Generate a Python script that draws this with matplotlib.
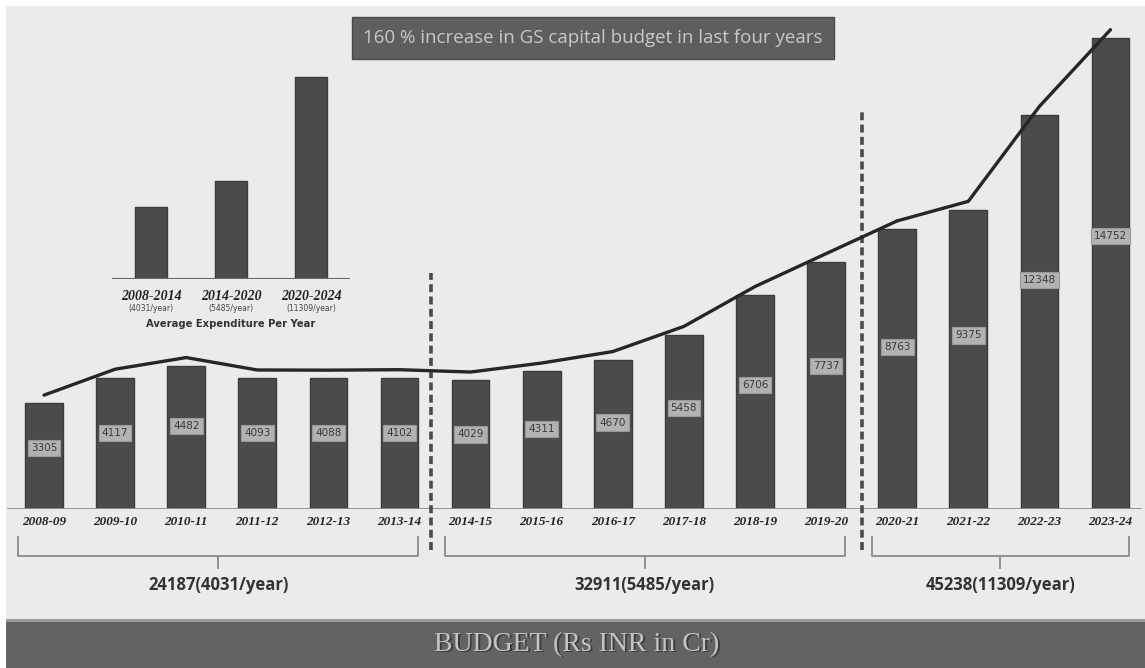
import matplotlib.pyplot as plt
import matplotlib.patches as mpatches
from matplotlib.transforms import offset_copy, blended_transform_factory

years = ["2008-09", "2009-10", "2010-11", "2011-12", "2012-13", "2013-14",
         "2014-15", "2015-16", "2016-17", "2017-18", "2018-19", "2019-20",
         "2020-21", "2021-22", "2022-23", "2023-24"]
budget = [3305, 4117, 4482, 4093, 4088, 4102,
          4029, 4311, 4670, 5458, 6706, 7737,
          8763, 9375, 12348, 14752]

periods = ["2008-2014", "2014-2020", "2020-2024"]
period_avg = [4031, 5485, 11309]
period_total = [24187, 32911, 45238]
period_idx = [(0, 5), (6, 11), (12, 15)]

BG = "#ebebeb"
BAR = "#4b4b4b"

fig = plt.figure(figsize=(11.45, 6.68), dpi=100, facecolor="white")
W, H = 1145, 668

def fx(px):
    return px / W

def fy(py):
    return 1 - py / H

# light panel + bottom banner
fig.patches.append(mpatches.Rectangle((fx(6), fy(620)), 1, fy(6) - fy(620),
                                      transform=fig.transFigure, fc=BG, ec="none", zorder=-10))
fig.patches.append(mpatches.Rectangle((fx(6), 0), 1, fy(620),
                                      transform=fig.transFigure, fc="#636363", ec="none", zorder=-9))
fig.patches.append(mpatches.Rectangle((fx(6), fy(622)), 1, fy(619) - fy(622),
                                      transform=fig.transFigure, fc="#9a9a9a", ec="none", zorder=-8))
fig.text(0.505, fy(646), "BUDGET (Rs INR in Cr)", ha="center", va="center",
         fontsize=20, family="Liberation Serif", color="#3c3c3c")
fig.text(0.504, fy(645), "BUDGET (Rs INR in Cr)", ha="center", va="center",
         fontsize=20, family="Liberation Serif", color="#c4c4c4")

# main axes
scale = 471 / 14752          # px per unit
base_px = 509
ax = fig.add_axes([0, fy(base_px), 1, base_px / H])
ax.set_facecolor("none")
x = list(range(len(years)))
ax.set_xlim(-44 / 71.1, (W - 44) / 71.1)
ax.set_ylim(0, base_px / scale)
for s in ax.spines.values():
    s.set_visible(False)
ax.set_yticks([])

ax.bar(x, budget, width=0.53, color=BAR, edgecolor="#3c3c3c", linewidth=1, zorder=2)
ax.axhline(0, xmin=fx(8), xmax=fx(1140), color="#8c8c8c", lw=2, zorder=3)

for i, v in enumerate(budget):
    ax.text(i, v * 0.58, str(v), ha="center", va="center", fontsize=7.5,
            color="#3a3a3a", zorder=4,
            bbox=dict(boxstyle="square,pad=0.3", fc="#b2b2b2", ec="#999999", lw=0.8))

# trend line sitting just above the bars
line_tr = offset_copy(ax.transData, fig=fig, x=0, y=6, units="points")
ax.plot(x, budget, color="#262626", lw=2.4, transform=line_tr, zorder=5,
        solid_capstyle="round")

ax.set_xticks(x)
ax.set_xticklabels(years, fontsize=9.5, family="Liberation Serif",
                   fontweight="bold", style="italic", color="#222222")
ax.tick_params(axis="x", length=0, pad=5)

# dashed separators
for xs, top_px in [(5.45, 273), (11.5, 108)]:
    ax.plot([xs, xs], [-41 / scale, (base_px - top_px) / scale], color="#4a4a4a",
            lw=2.6, ls=(0, (2.2, 1.2)), clip_on=False, zorder=3)

# braces with totals
bt = blended_transform_factory(ax.transData, fig.transFigure)
for (a, b), tot, avg in zip(period_idx, period_total, period_avg):
    l, r = a - 0.36, b + 0.26
    c = (l + r) / 2
    ax.plot([l, l, r, r], [fy(537), fy(556), fy(556), fy(537)], color="#8a8a8a",
            lw=1.3, transform=bt, clip_on=False)
    ax.plot([c, c], [fy(556), fy(568)], color="#8a8a8a", lw=1.3,
            transform=bt, clip_on=False)
    ax.text(c, fy(585), f"{tot}({avg}/year)", transform=bt, ha="center",
            va="center", fontsize=12, fontweight="bold", color="#333333",
            family="Open Sans")

# title box
fig.text(0.518, fy(38), "160 % increase in GS capital budget in last four years",
         ha="center", va="center", fontsize=13.5, color="#c8c8c8", family="Open Sans",
         bbox=dict(boxstyle="square,pad=0.62", fc="#5e5e5e", ec="#4a4a4a", lw=1))

# inset: average per year
ins_base = 279
ins_top = 60
iax = fig.add_axes([fx(112), fy(ins_base), fx(350) - fx(112), (ins_base - ins_top) / H])
iax.set_facecolor("none")
iax.set_xlim(-39 / 80, 199 / 80)
iax.set_ylim(0, period_avg[2] * (ins_base - ins_top) / 202)
iax.bar(range(3), period_avg, width=0.41, color=BAR, edgecolor="#3c3c3c", lw=1)
for s in iax.spines.values():
    s.set_visible(False)
iax.axhline(0, color="#6a6a6a", lw=1.5)
iax.set_xticks([])
iax.set_yticks([])
it = blended_transform_factory(iax.transData, fig.transFigure)
for i, (p, avg) in enumerate(zip(periods, period_avg)):
    iax.text(i, fy(297), p, transform=it, ha="center", va="center", fontsize=10,
             fontweight="bold", style="italic", family="Liberation Serif", color="#222222")
    iax.text(i, fy(309), f"({avg}/year)", transform=it, ha="center", va="center",
             fontsize=5.5, color="#444444")
iax.text(1, fy(324), "Average Expenditure Per Year", transform=it, ha="center",
         va="center", fontsize=7.2, fontweight="bold", color="#333333")

fig.savefig("out.png", dpi=100, facecolor=fig.get_facecolor())
